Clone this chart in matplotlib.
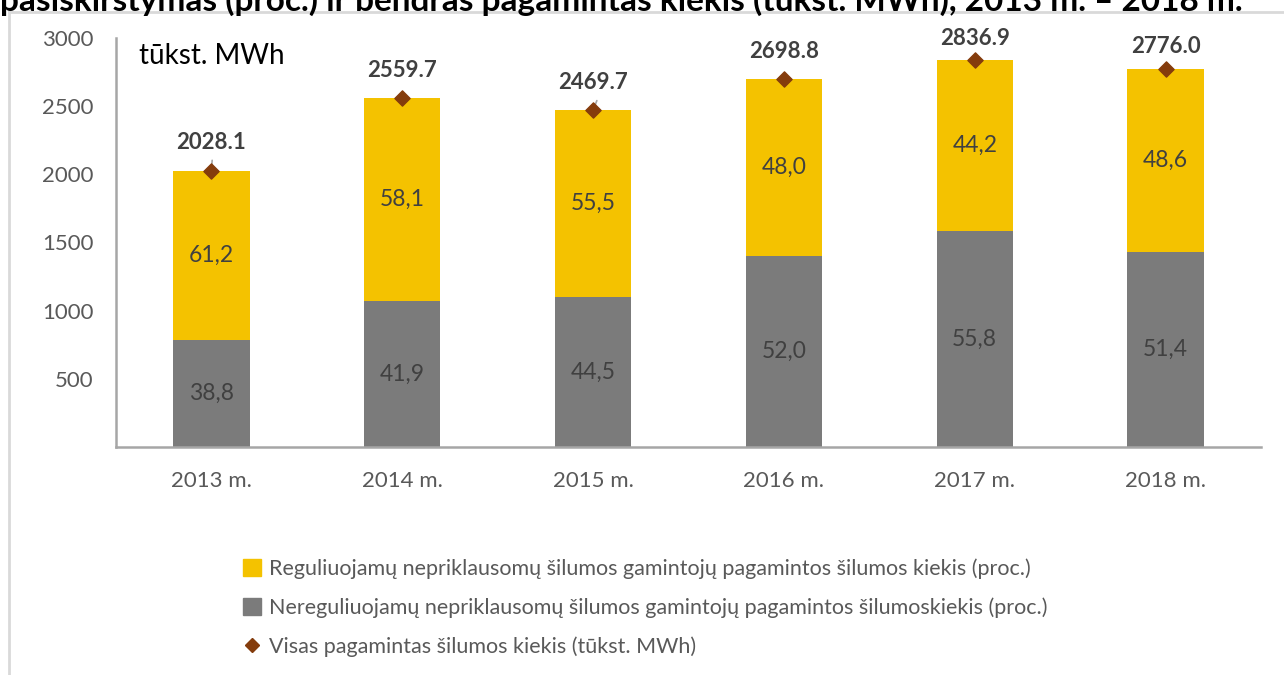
import matplotlib
matplotlib.use('Agg')
import matplotlib.pyplot as plt
from matplotlib.patches import Patch
from matplotlib.lines import Line2D
import numpy as np

plt.rcParams['font.family'] = ['Lato', 'DejaVu Sans']

# duomenys
metai = ['2013 m.', '2014 m.', '2015 m.', '2016 m.', '2017 m.', '2018 m.']
visas_kiekis = [2028.1, 2559.7, 2469.7, 2698.8, 2836.9, 2776.0]
nereg_proc = [38.8, 41.9, 44.5, 52.0, 55.8, 51.4]
reg_proc = [61.2, 58.1, 55.5, 48.0, 44.2, 48.6]

leg_reg = 'Reguliuojamų nepriklausomų šilumos gamintojų pagamintos šilumos kiekis (proc.)'
leg_nereg = 'Nereguliuojamų nepriklausomų šilumos gamintojų pagamintos šilumoskiekis (proc.)'
leg_visas = 'Visas pagamintas šilumos kiekis (tūkst. MWh)'
pavadinimas = 'pasiskirstymas (proc.) ir bendras pagamintas kiekis (tūkst. MWh), 2013 m. – 2018 m.'

c_geltona = '#F4C200'
c_pilka = '#7B7B7B'
c_ruda = '#843C0C'
c_tekstas = '#404040'
c_asis = '#595959'

fig = plt.figure(figsize=(12.84, 6.75), dpi=100)
ax = fig.add_axes([116/1284, 1 - 447/675, (1261-116)/1284, (447-38)/675])

x = np.arange(len(metai))
visas = np.array(visas_kiekis)
nereg = visas * np.array(nereg_proc) / 100
reg = visas * np.array(reg_proc) / 100

ax.bar(x, nereg, width=0.4, color=c_pilka, zorder=2)
ax.bar(x, reg, width=0.4, bottom=nereg, color=c_geltona, zorder=2)
ax.scatter(x, visas, marker='D', s=60, color=c_ruda, zorder=4)

for i in range(len(metai)):
    ax.text(x[i], nereg[i] / 2, f'{nereg_proc[i]:.1f}'.replace('.', ','),
            ha='center', va='center', fontsize=16.5, color=c_tekstas)
    ax.text(x[i], nereg[i] + reg[i] / 2, f'{reg_proc[i]:.1f}'.replace('.', ','),
            ha='center', va='center', fontsize=16.5, color=c_tekstas)
    # viršutinės etiketės – prie viršaus šiek tiek arčiau taško
    dy = 20 if visas[i] < 2750 else 16
    ax.annotate(f'{visas_kiekis[i]:.1f}', (x[i], visas[i]), xytext=(0, dy),
                textcoords='offset points', ha='center', va='center',
                fontsize=16, fontweight='bold', color=c_tekstas, zorder=5)

# jungiamosios linijos
ax.annotate('', (x[0], visas[0]), xytext=(x[0] + 0.005, visas[0] + 95),
            arrowprops=dict(arrowstyle='-', color='#A6A6A6', lw=1.2))
ax.annotate('', (x[2], visas[2]), xytext=(x[2] + 0.025, visas[2] + 90),
            arrowprops=dict(arrowstyle='-', color='#A6A6A6', lw=1.2))

ax.set_xlim(-0.5, 5.5)
ax.set_ylim(0, 3000)
ax.set_yticks([500, 1000, 1500, 2000, 2500, 3000])
ax.set_xticks(x)
ax.set_xticklabels(metai)
ax.tick_params(length=0, labelsize=16, colors=c_asis, pad=17)
ax.tick_params(axis='y', pad=16)
for s in ['top', 'right']:
    ax.spines[s].set_visible(False)
for s in ['left', 'bottom']:
    ax.spines[s].set_color('#A6A6A6')
    ax.spines[s].set_linewidth(1.8)

ax.text(0.02, 0.955, 'tūkst. MWh', transform=ax.transAxes, fontsize=20,
        color='black', ha='left', va='center')

# legenda
rankeneles = [Patch(color=c_geltona), Patch(color=c_pilka),
              Line2D([], [], marker='D', color=c_ruda, ls='none', markersize=7)]
fig.legend(rankeneles, [leg_reg, leg_nereg, leg_visas], loc='upper left',
           bbox_to_anchor=(224/1284, 1 - 539/675), frameon=False, fontsize=15.5,
           labelcolor=c_asis, handlelength=0.8, handleheight=0.8,
           handletextpad=0.4, labelspacing=0.85)

# rėmelis
fig.add_artist(Line2D([9/1284, 9/1284], [0, 1 - 12/675], color='#D9D9D9', lw=2))
fig.add_artist(Line2D([9/1284, 1], [1 - 12/675, 1 - 12/675], color='#D9D9D9', lw=2))

# nukirptas pavadinimas (kaip originale)
fig.text(0.0, 1 - 11/675, pavadinimas, fontsize=24, fontweight='bold',
         color='black', ha='left', va='baseline')

fig.savefig('out.png', dpi=100)
